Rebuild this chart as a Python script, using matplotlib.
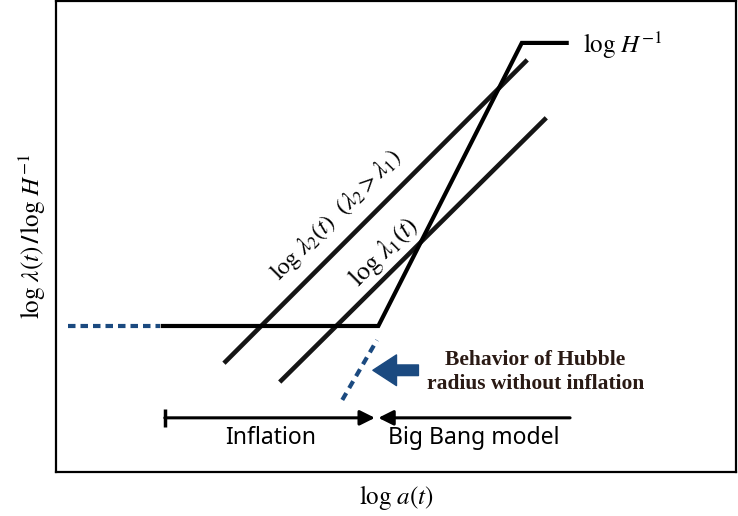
import matplotlib
matplotlib.use("Agg")
import matplotlib.pyplot as plt

plt.rcParams['mathtext.fontset'] = 'stix'

# schematic values (arbitrary log units)
hubble_x = [1.57, 4.74, 6.85, 7.51]
hubble_y = [3.10, 3.10, 9.11, 9.11]
early_x = [0.18, 1.53]          # dashed extension to the left
early_y = [3.10, 3.10]
noinf_x = [4.21, 4.72]          # Hubble radius without inflation
noinf_y = [1.53, 2.80]
lam2_x = [2.47, 6.93]
lam2_y = [2.31, 8.75]
lam1_x = [3.29, 7.21]
lam1_y = [1.91, 7.52]
phase_y = 1.15
inflation_x = [1.60, 4.69]
bigbang_x = [7.56, 4.74]

blue = '#1b4a80'

fig = plt.figure(figsize=(7.38, 5.16), dpi=100)
ax = fig.add_axes([56/738, 44/516, 680/738, 471/516])
ax.set_xlim(0, 10)
ax.set_ylim(0, 10)
ax.set_xticks([])
ax.set_yticks([])
for s in ax.spines.values():
    s.set_linewidth(1.6)

# wavelength lines
ax.plot(lam2_x, lam2_y, color='#151515', lw=3.3, solid_capstyle='butt')
ax.plot(lam1_x, lam1_y, color='#151515', lw=3.3, solid_capstyle='butt')

# Hubble radius
ax.plot(hubble_x, hubble_y, color='black', lw=3, solid_joinstyle='miter')
ax.plot(early_x, early_y, color=blue, lw=3, dashes=(1.8, 1.2), dash_capstyle='butt')
ax.plot(noinf_x, noinf_y, color=blue, lw=3, dashes=(1.9, 1.4), dash_capstyle='butt')

# phase arrows
ax.annotate('', xy=(inflation_x[1], phase_y), xytext=(inflation_x[0], phase_y),
            arrowprops=dict(arrowstyle='-|>,head_length=0.6,head_width=0.3',
                            color='black', lw=2.2, mutation_scale=15,
                            shrinkA=0, shrinkB=0))
ax.plot(inflation_x[0], phase_y, marker='|', color='black', ms=13, mew=2.5)
ax.annotate('', xy=(bigbang_x[1], phase_y), xytext=(bigbang_x[0], phase_y),
            arrowprops=dict(arrowstyle='-|>,head_length=0.6,head_width=0.3',
                            color='black', lw=2.2, mutation_scale=15,
                            shrinkA=0, shrinkB=0))
ax.text(3.15, 0.72, 'Inflation', fontsize=16.5, family='Noto Sans', weight=500,
        ha='center', va='center')
ax.text(6.15, 0.72, 'Big Bang model', fontsize=16.5, family='Noto Sans', weight=500,
        ha='center', va='center')

# blue arrow + note
ax.annotate('', xy=(4.66, 2.16), xytext=(5.33, 2.16),
            arrowprops=dict(arrowstyle='simple,head_length=1.0,head_width=1.3,tail_width=0.45',
                            color=blue, mutation_scale=17, shrinkA=0, shrinkB=0))
ax.text(7.05, 2.12, 'Behavior of Hubble\nradius without inflation',
        fontsize=15.5, family='Liberation Serif', weight='bold', color='#2a1a14',
        ha='center', va='center', linespacing=1.3)

# labels on lines
ax.text(4.12, 5.46, r'$\log\,\lambda_2(t)\ \ (\lambda_2 > \lambda_1)$', fontsize=17.5,
        rotation=45, ha='center', va='center')
ax.text(4.82, 4.67, r'$\log\,\lambda_1(t)$', fontsize=18.5,
        rotation=45, ha='center', va='center')
ax.text(7.75, 9.05, r'$\log\,H^{-1}$', fontsize=18, ha='left', va='center')

ax.set_xlabel(r'$\log\,a(t)$', fontsize=18, labelpad=8)
ax.set_ylabel(r'$\log\,\lambda(t)\,\mathbf{/}\,\log\,H^{-1}$', fontsize=18, labelpad=6)

fig.savefig('out.png', dpi=100)
